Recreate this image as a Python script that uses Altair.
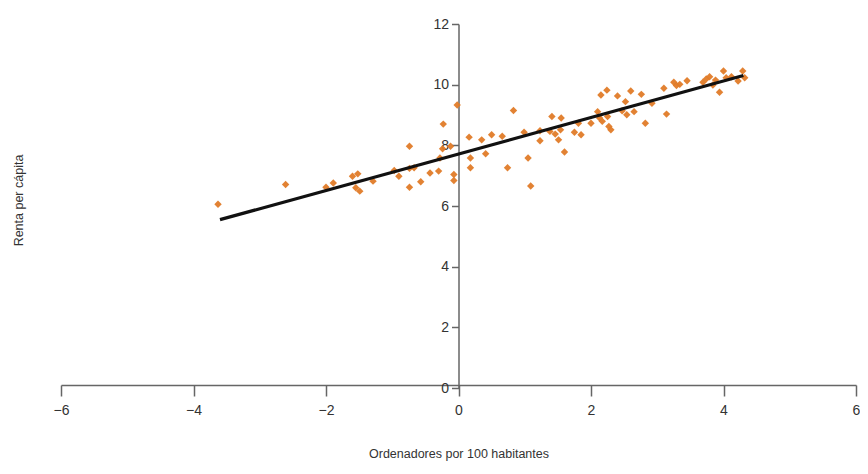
import altair as alt
import pandas as pd

# Scatter data: Ordenadores por 100 habitantes (x) vs Renta per cápita (y)
pts_x = [-3.63, -2.61, -2.00, -1.89, -1.60, -1.52, -1.55, -1.49, -1.29, -0.97,
         -0.90, -0.74, -0.74, -0.74, -0.67, -0.57, -0.43, -0.30, -0.28, -0.24,
         -0.23, -0.12, -0.07, -0.07, -0.02, 0.16, 0.18, 0.18,
         0.35, 0.41, 0.50, 0.66, 0.74, 0.83, 0.99, 1.05, 1.09, 1.23,
         1.23, 1.38, 1.41, 1.46, 1.51, 1.55, 1.54, 1.60, 1.75, 1.81,
         1.85, 2.00, 2.10, 2.15, 2.13, 2.17, 2.24, 2.25, 2.27, 2.30,
         2.40, 2.47, 2.52, 2.54, 2.60, 2.65, 2.76, 2.82, 2.92, 3.10,
         3.14, 3.25, 3.29, 3.34, 3.45, 3.69, 3.74, 3.79, 3.84, 3.88,
         3.94, 4.00, 4.04, 4.12, 4.22, 4.29, 4.32]
pts_y = [6.06, 6.71, 6.62, 6.76, 6.98, 7.06, 6.60, 6.49, 6.82, 7.17,
         6.98, 7.97, 6.62, 7.24, 7.26, 6.80, 7.09, 7.15, 7.58, 7.89,
         8.70, 7.97, 7.04, 6.84, 9.33, 8.27, 7.58, 7.26,
         8.18, 7.72, 8.35, 8.30, 7.26, 9.15, 8.43, 7.58, 6.66, 8.48,
         8.15, 8.46, 8.95, 8.37, 8.18, 8.90, 8.51, 7.78, 8.43, 8.73,
         8.35, 8.73, 9.11, 9.66, 8.90, 8.79, 9.82, 8.95, 8.62, 8.51,
         9.63, 9.14, 9.44, 9.01, 9.79, 9.11, 9.68, 8.73, 9.39, 9.88,
         9.03, 10.08, 9.97, 10.01, 10.13, 10.08, 10.19, 10.26, 9.99, 10.15,
         9.75, 10.45, 10.23, 10.26, 10.12, 10.45, 10.23]

# Fitted line endpoints
line_x = [-3.6, 4.3]
line_y = [5.55, 10.3]

x_ticks = [-6, -4, -2, 0, 2, 4, 6]
y_ticks = [0, 2, 4, 6, 8, 10, 12]

pts = pd.DataFrame({"x": pts_x, "y": pts_y})
line = pd.DataFrame({"x": line_x, "y": line_y})

FONT = "Liberation Sans"
AXIS_COLOR = "#666666"
TEXT_COLOR = "#333333"

W, H = 795, 364

xscale = alt.Scale(domain=[-6, 6], nice=False, zero=False)
yscale = alt.Scale(domain=[0, 12], nice=False, zero=False)

xaxis = alt.Axis(
    values=x_ticks, format="d", title="Ordenadores por 100 habitantes", grid=False,
    domainColor=AXIS_COLOR, domainWidth=1.5, tickColor=AXIS_COLOR, tickWidth=1.5,
    tickSize=11, labelFontSize=14, labelColor=TEXT_COLOR, labelFont=FONT,
    labelPadding=7, labelFlush=False, titleFont=FONT, titleFontSize=12.5,
    titleFontWeight="normal", titleColor=TEXT_COLOR, titlePadding=30, offset=-3,
)
yaxis = alt.Axis(
    values=y_ticks, format="d", title="Renta per cápita", grid=False, offset=-W / 2,
    domainColor=AXIS_COLOR, domainWidth=1.5, tickColor=AXIS_COLOR, tickWidth=1.5,
    tickSize=7, labelFontSize=14, labelColor=TEXT_COLOR, labelFont=FONT,
    labelPadding=3, titleFont=FONT, titleFontSize=12.5, titleFontWeight="normal",
    titleColor=TEXT_COLOR, titleX=-(8 + 53 + W / 2 - 18), titleY=176, titleAngle=270,
    titleAlign="center", titleBaseline="middle",
)

points = alt.Chart(pts).mark_point(
    shape="diamond", filled=True, size=55, color="#E07B28", opacity=0.95
).encode(
    x=alt.X("x:Q", scale=xscale, axis=xaxis),
    y=alt.Y("y:Q", scale=yscale, axis=yaxis),
)

fit = alt.Chart(line).mark_line(color="#111111", strokeWidth=3.2).encode(
    x=alt.X("x:Q", scale=xscale),
    y=alt.Y("y:Q", scale=yscale),
)

chart = alt.layer(points, fit).properties(
    width=W, height=H,
    autosize=alt.AutoSizeParams(type="none"),
    padding={"left": 53, "top": 16, "right": 4, "bottom": 76},
).configure_view(stroke=None)

chart.save("out.html", embed_options={"renderer": "svg", "actions": False})
